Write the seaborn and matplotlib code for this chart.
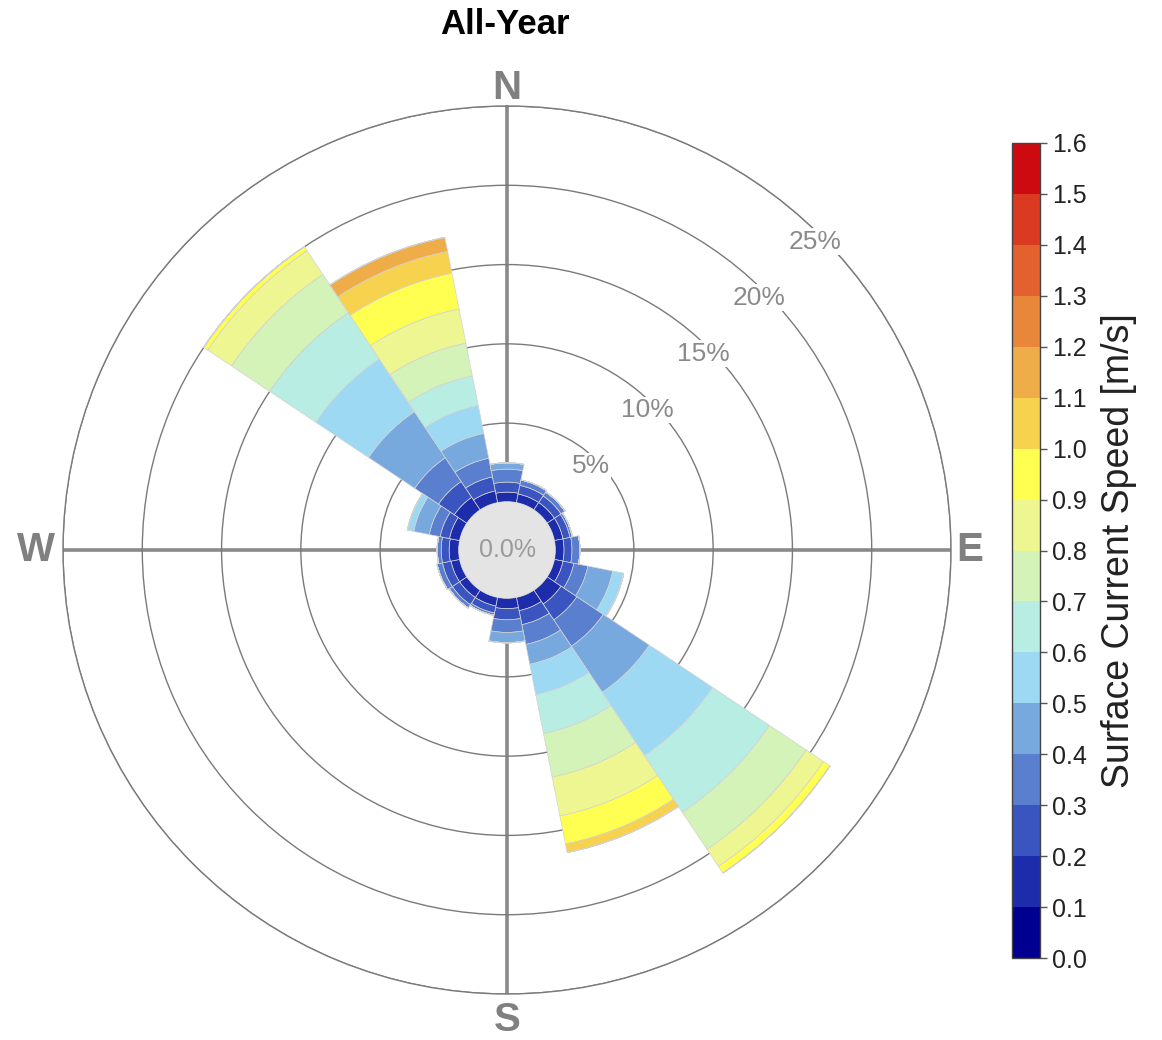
import numpy as np
import matplotlib
matplotlib.use("Agg")
import matplotlib.pyplot as plt
import seaborn as sns
from matplotlib.colors import ListedColormap, BoundaryNorm
from matplotlib.cm import ScalarMappable
from matplotlib.patches import Circle

# === Datos: frecuencia (%) por dirección y rango de velocidad ===
directions = ["N", "NNE", "NE", "ENE", "E", "ESE", "SE", "SSE",
              "S", "SSW", "SW", "WSW", "W", "WNW", "NW", "NNW"]
speed_edges = [0.0, 0.1, 0.2, 0.3, 0.4, 0.5, 0.6, 0.7, 0.8,
               0.9, 1.0, 1.1, 1.2, 1.3, 1.4, 1.5, 1.6]
speed_colors = ["#000090", "#1c2cab", "#3a55bf", "#5a7fcf", "#78a9de", "#9dd9f3",
                "#b8ede3", "#d3f3b8", "#eef692", "#ffff52", "#f6d24e", "#eead48",
                "#e8873a", "#e2612e", "#da3a22", "#cc0a10"]

freq_n = [0.05, 0.60, 0.63, 0.82, 0.40]
freq_nne = [0.05, 0.55, 0.55, 0.35]
freq_ne = [0.05, 0.55, 0.50, 0.30]
freq_ene = [0.05, 0.55, 0.45, 0.15]
freq_e = [0.05, 0.55, 0.50, 0.50]
freq_ese = [0.05, 0.55, 0.70, 0.90, 1.60, 0.70]
freq_se = [0.05, 1.05, 1.20, 2.00, 3.50, 4.80, 4.30, 2.80, 1.30, 0.50]
freq_sse = [0.05, 0.85, 0.90, 1.27, 1.28, 1.95, 2.50, 2.80, 2.50, 1.80, 0.55]
freq_s = [0.05, 0.65, 0.70, 0.80, 0.65]
freq_ssw = [0.05, 0.55, 0.45, 0.15]
freq_sw = [0.05, 0.55, 0.55, 0.25]
freq_wsw = [0.05, 0.55, 0.55, 0.35]
freq_w = [0.05, 0.60, 0.50, 0.25]
freq_wnw = [0.05, 0.65, 0.60, 0.70, 1.00, 0.40]
freq_nw = [0.05, 0.95, 1.20, 1.80, 3.50, 4.00, 3.50, 2.90, 1.80, 0.30]
freq_nnw = [0.05, 0.75, 0.90, 1.20, 1.60, 1.80, 1.90, 2.10, 2.20, 2.30, 1.40, 0.90]

ring_values = [5, 10, 15, 20, 25]

all_freqs = [freq_n, freq_nne, freq_ne, freq_ene, freq_e, freq_ese, freq_se, freq_sse,
             freq_s, freq_ssw, freq_sw, freq_wsw, freq_w, freq_wnw, freq_nw, freq_nnw]
n_bins = len(speed_edges) - 1
table = np.zeros((len(directions), n_bins))
for i, f in enumerate(all_freqs):
    table[i, :len(f)] = f
bottoms = np.hstack([np.zeros((len(directions), 1)), np.cumsum(table, axis=1)[:, :-1]])

# === Estilo ===
sns.set_theme(style="white")
plt.rcParams["font.family"] = ["Liberation Sans", "DejaVu Sans"]
palette = sns.color_palette(speed_colors)

W, H = 1162, 1040
fig = plt.figure(figsize=(W / 100, H / 100), dpi=100)
ax = fig.add_axes([63 / W, 46 / H, 888 / W, 888 / H], projection="polar")
ax.set_theta_zero_location("N")
ax.set_theta_direction(-1)

thetas = np.radians(np.arange(len(directions)) * 22.5)
width = np.radians(22.5)
for k in range(n_bins):
    ax.bar(thetas, table[:, k], width=width, bottom=bottoms[:, k], color=palette[k],
           edgecolor="#d2d2d2", linewidth=0.5, zorder=3)

ax.set_ylim(0, 25)
ax.set_rorigin(-3.0)
ax.set_axisbelow(True)

ax.set_xticks(np.radians([0, 90, 180, 270]))
ax.set_xticklabels([])
ax.set_yticks(ring_values)
ax.set_yticklabels([])
ax.tick_params(length=0)
ax.xaxis.grid(True, color="#8a8a8a", linewidth=2.6)
ax.yaxis.grid(True, color="#7a7a7a", linewidth=1.0)
for name, sp in ax.spines.items():
    if name == "polar":
        sp.set_color("#7a7a7a")
        sp.set_linewidth(1.0)
    else:
        sp.set_visible(False)

# etiquetas de anillos
for r in ring_values:
    ax.text(np.radians(45), r - 0.5, f"{r}%", ha="center", va="center", fontsize=19,
            color="#8a8a8a", zorder=4,
            bbox=dict(facecolor="white", edgecolor="none", pad=1.0))

# disco central
ax.add_artist(Circle((0.5, 0.5), 0.5 * 3 / 28, transform=ax.transAxes,
                     color="#e4e4e4", clip_on=False, zorder=5))
ax.text(0.5, 0.5, "0.0%", transform=ax.transAxes, ha="center", va="center",
        fontsize=18, color="#9a9a9a", zorder=6)

# puntos cardinales
card = {"N": (0.5, 1.020), "S": (0.5, -0.029), "W": (-0.030, 0.5), "E": (1.021, 0.5)}
for lab, (x, y) in card.items():
    ax.text(x, y, lab, transform=ax.transAxes, ha="center", va="center",
            fontsize=29, fontweight="bold", color="#808080")

fig.text(505 / W, 1 - 25 / H, "All-Year", ha="center", va="center",
         fontsize=25, fontweight="bold", color="black")

# === Barra de color ===
cax = fig.add_axes([1012 / W, (H - 958) / H, 28 / W, (958 - 143) / H])
cmap = ListedColormap(palette)
norm = BoundaryNorm(speed_edges, cmap.N)
cb = fig.colorbar(ScalarMappable(norm=norm, cmap=cmap), cax=cax, ticks=speed_edges)
cb.ax.set_yticklabels([f"{e:.1f}" for e in speed_edges])
cb.ax.tick_params(labelsize=18, length=5, width=1, color="#555555", colors="#222222")
cb.outline.set_linewidth(1.0)
cb.outline.set_edgecolor("#444444")
cb.set_label("Surface Current Speed [m/s]", fontsize=27, labelpad=10, color="#222222")

fig.savefig("out.png", dpi=100)
